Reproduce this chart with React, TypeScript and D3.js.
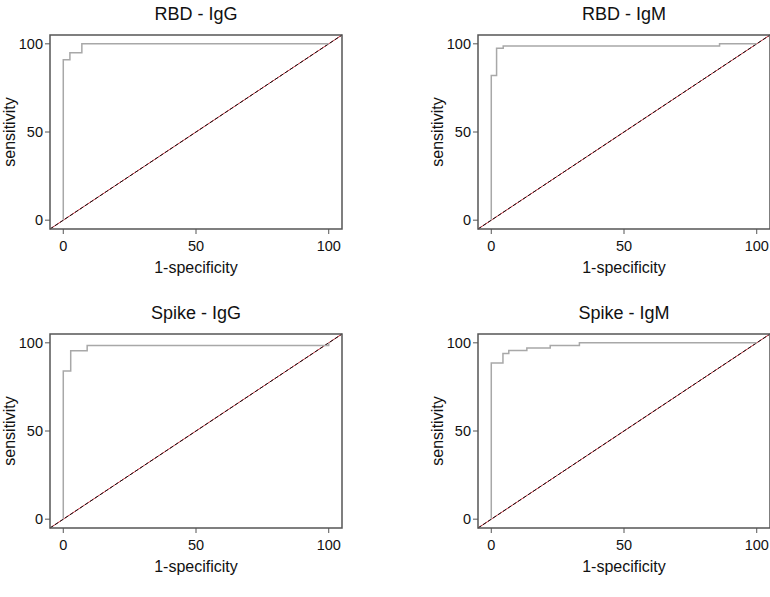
import React from "react";
import * as d3 from "d3";

const panelTitles = ["RBD - IgG", "RBD - IgM", "Spike - IgG", "Spike - IgM"];

// 1-specificity (%) and sensitivity (%) step points for each ROC curve
const rbdIgGFpr = [0, 0, 2.5, 7, 100];
const rbdIgGSens = [0, 91, 95, 100, 100];
const rbdIgMFpr = [0, 0, 2, 4.5, 86, 100];
const rbdIgMSens = [0, 82, 97.5, 98.8, 100, 100];
const spikeIgGFpr = [0, 0, 2.8, 9, 100];
const spikeIgGSens = [0, 84, 95.5, 98.5, 100];
const spikeIgMFpr = [0, 0, 4.4, 6.6, 13.4, 22.2, 33.2, 100];
const spikeIgMSens = [0, 88.5, 94, 95.7, 97, 98.5, 100, 100];

const tickValues = [0, 50, 100];
const axisDomain = [-5, 105];
const xLabel = "1-specificity";
const yLabel = "sensitivity";

const curves = [
  [rbdIgGFpr, rbdIgGSens],
  [rbdIgMFpr, rbdIgMSens],
  [spikeIgGFpr, spikeIgGSens],
  [spikeIgMFpr, spikeIgMSens],
];

const W = 770;
const H = 597;
const FONT = "'Liberation Sans', Arial, Helvetica, sans-serif";

function Panel({ idx }: { idx: number }) {
  const col = idx % 2;
  const row = Math.floor(idx / 2);
  const dx = col * 428;
  const dy = row * 299;
  const left = 50, top = 35, right = 342, bottom = 229;
  const x = d3.scaleLinear().domain(axisDomain).range([left, right]);
  const y = d3.scaleLinear().domain(axisDomain).range([bottom, top]);
  const [fpr, sens] = curves[idx];
  const pts = fpr.map((f, i) => [f, sens[i]] as [number, number]);
  const line = d3
    .line<[number, number]>()
    .x((d) => x(d[0]))
    .y((d) => y(d[1]))
    .curve(d3.curveStepAfter);
  const diag = d3.line<number>().x((d) => x(d)).y((d) => y(d))(axisDomain) || "";
  return (
    <g transform={`translate(${dx},${dy})`}>
      <text x={(left + right) / 2} y={20} textAnchor="middle" fontSize={18} fontFamily={FONT} fill="#111">
        {panelTitles[idx]}
      </text>
      <path d={diag} stroke="#d02030" strokeWidth={0.9} fill="none" />
      <path d={diag} stroke="#111" strokeWidth={1} strokeDasharray="4,2" fill="none" />
      <path d={line(pts) || ""} stroke="#a8a8a8" strokeWidth={1.5} fill="none" />
      <rect x={left} y={top} width={right - left} height={bottom - top} fill="none" stroke="#555" strokeWidth={1.5} />
      {tickValues.map((t) => (
        <g key={"y" + t}>
          <line x1={left - 5} x2={left} y1={y(t)} y2={y(t)} stroke="#555" strokeWidth={1} />
          <text x={left - 7} y={y(t) + 5} textAnchor="end" fontSize={14.5} fontFamily={FONT} fill="#111">
            {t}
          </text>
        </g>
      ))}
      {tickValues.map((t) => (
        <g key={"x" + t}>
          <line x1={x(t)} x2={x(t)} y1={bottom} y2={bottom + 5} stroke="#555" strokeWidth={1} />
          <text x={x(t)} y={bottom + 22} textAnchor="middle" fontSize={14.5} fontFamily={FONT} fill="#111">
            {t}
          </text>
        </g>
      ))}
      <text x={(left + right) / 2} y={bottom + 44} textAnchor="middle" fontSize={16} fontFamily={FONT} fill="#111">
        {xLabel}
      </text>
      <text
        transform={`translate(${15},${(top + bottom) / 2}) rotate(-90)`}
        textAnchor="middle"
        fontSize={16}
        fontFamily={FONT}
        fill="#111"
      >
        {yLabel}
      </text>
    </g>
  );
}

export default function App() {
  return (
    <svg width={W} height={H} style={{ position: "absolute", left: 0, top: 0, background: "#fff" }}>
      <rect width={W} height={H} fill="#fff" />
      {[0, 1, 2, 3].map((i) => (
        <Panel key={i} idx={i} />
      ))}
    </svg>
  );
}
